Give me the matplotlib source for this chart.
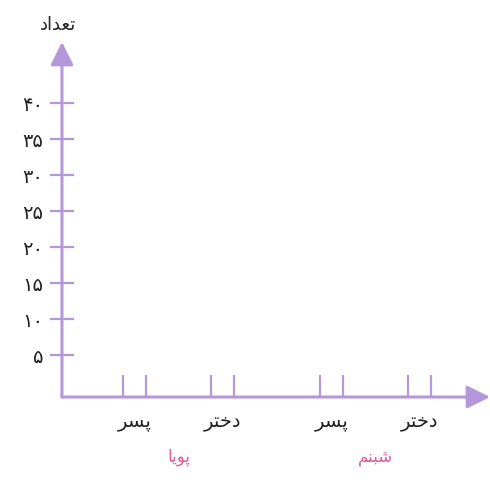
import matplotlib
matplotlib.use('Agg')
import matplotlib.pyplot as plt

# data
y_ticks = [5, 10, 15, 20, 25, 30, 35, 40]
y_labels = ['۵', '۱۰', '۱۵', '۲۰', '۲۵', '۳۰', '۳۵', '۴۰']
groups = ['پویا', 'شبنم']
subgroups = ['پسر', 'دختر']
y_title = 'تعداد'
cat_pos = [0.0, 1.0, 2.24, 3.24]   # centres of the four slots
pair_gap = 0.13                    # half distance between the two marks of a slot

LAV = '#b598d9'
PINK = '#e0579a'
TXT = '#222222'

# minimal arabic shaping (matplotlib draws glyphs left to right, unjoined)
FORMS = {
    'ت': (0xFE95, 0xFE96, 0xFE97, 0xFE98),
    'ع': (0xFEC9, 0xFECA, 0xFECB, 0xFECC),
    'د': (0xFEA9, 0xFEAA, None, None),
    'ا': (0xFE8D, 0xFE8E, None, None),
    'پ': (0xFB56, 0xFB57, 0xFB58, 0xFB59),
    'س': (0xFEB1, 0xFEB2, 0xFEB3, 0xFEB4),
    'ر': (0xFEAD, 0xFEAE, None, None),
    'خ': (0xFEA5, 0xFEA6, 0xFEA7, 0xFEA8),
    'و': (0xFEED, 0xFEEE, None, None),
    'ی': (0xFBFC, 0xFBFD, 0xFBFE, 0xFBFF),
    'ش': (0xFEB5, 0xFEB6, 0xFEB7, 0xFEB8),
    'ب': (0xFE8F, 0xFE90, 0xFE91, 0xFE92),
    'ن': (0xFEE5, 0xFEE6, 0xFEE7, 0xFEE8),
    'م': (0xFEE1, 0xFEE2, 0xFEE3, 0xFEE4),
}


def shape(word):
    out = []
    for i, ch in enumerate(word):
        f = FORMS.get(ch)
        if f is None:
            out.append(ch)
            continue
        prev = i > 0 and word[i - 1] in FORMS and FORMS[word[i - 1]][2] is not None
        nxt = i < len(word) - 1 and word[i + 1] in FORMS and f[2] is not None
        if prev and nxt:
            c = f[3]
        elif prev:
            c = f[1]
        elif nxt:
            c = f[2]
        else:
            c = f[0]
        out.append(chr(c))
    return ''.join(reversed(out))


fig = plt.figure(figsize=(4.9, 4.8), dpi=100)
ax = fig.add_axes([0.1265, 0.1729, 0.8735, 0.7396])
ax.set_xlim(-0.824, 4.04)
ax.set_ylim(-0.83, 48.5)
for s in ax.spines.values():
    s.set_visible(False)

# axes with arrow heads
arw = dict(arrowstyle='-|>,head_length=1.4,head_width=0.7', mutation_scale=10,
           color=LAV, lw=2.2, shrinkA=0, shrinkB=0)
ax.annotate('', xy=(0, 1), xytext=(0, 0), xycoords='axes fraction', arrowprops=arw)
ax.annotate('', xy=(1, 0), xytext=(0, 0), xycoords='axes fraction', arrowprops=arw)

# y ticks
ax.set_yticks(y_ticks)
ax.set_yticklabels(y_labels, fontsize=14, color=TXT)
ax.tick_params(axis='y', direction='inout', length=17, width=1.6, color=LAV, pad=5)

# x: pairs of marks as minor ticks, labels on major ticks
marks = []
for c in cat_pos:
    marks += [c - pair_gap, c + pair_gap]
ax.set_xticks(marks, minor=True)
ax.tick_params(axis='x', which='minor', direction='in', length=16, width=1.6, color=LAV)
ax.set_xticks(cat_pos)
ax.set_xticklabels([shape(w) for w in subgroups * len(groups)], fontsize=14, color=TXT)
ax.tick_params(axis='x', which='major', length=0, pad=11)

# group names
for g, name in enumerate(groups):
    gx = (cat_pos[2 * g] + cat_pos[2 * g + 1]) / 2
    ax.text(gx, -0.17, shape(name), transform=ax.get_xaxis_transform(),
            ha='center', va='center', fontsize=12, color=PINK)

fig.text(0.118, 0.948, shape(y_title), ha='center', va='center', fontsize=13, color=TXT)

fig.savefig('out.png', dpi=100)
